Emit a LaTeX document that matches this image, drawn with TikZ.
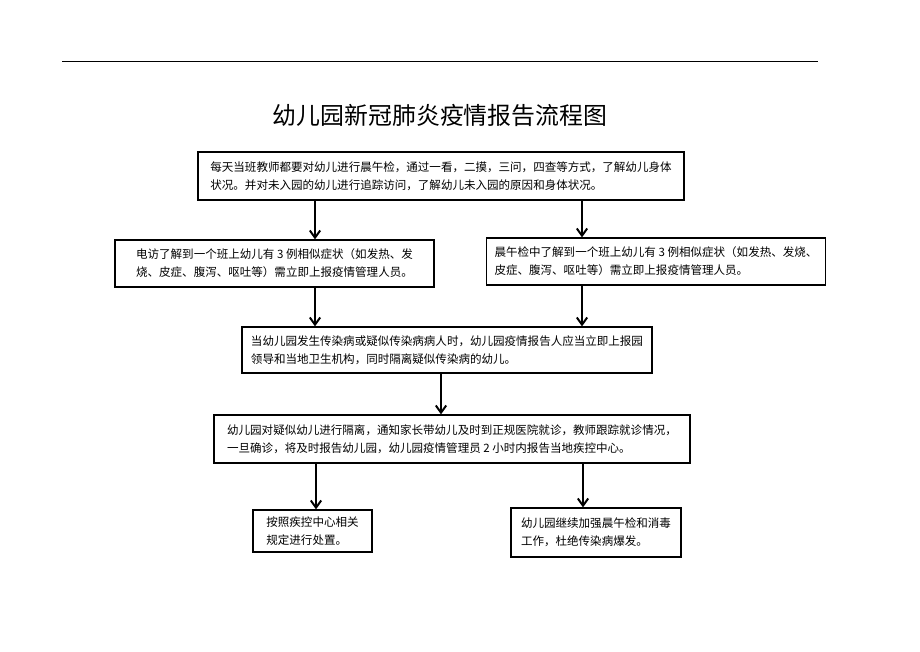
\documentclass[tikz,border=0pt]{standalone}
\usepackage{fontspec}
\newfontfamily\cjk{Noto Sans CJK SC}
\usepackage{tikz}
\usetikzlibrary{arrows.meta,positioning,calc}

\tikzset{
  procbox/.style={draw, line width=0.9pt, align=left, inner xsep=0.2cm,
    font=\cjk\fontsize{8.2}{12.8}\selectfont},
  flow/.style={-{Straight Barb[length=1.8mm,width=2.6mm]}, line width=1.4pt}
}

\begin{document}
\begin{tikzpicture}[x=0.025cm, y=-0.025cm]
\useasboundingbox (0,0) rectangle (920,651);
\draw[line width=0.6pt] (62,61) -- (818,61);

\node[font=\cjk\fontsize{17}{20}\selectfont] (title) at (440,115) {幼儿园新冠肺炎疫情报告流程图};

\node[procbox, minimum width=12.15cm, minimum height=1.2cm] (daily) at (441,176)
  {每天当班教师都要对幼儿进行晨午检，通过一看，二摸，三问，四查等方式，了解幼儿身体\\
   状况。并对未入园的幼儿进行追踪访问，了解幼儿未入园的原因和身体状况。};
\node[procbox, minimum width=7.975cm, minimum height=1.175cm] (phone) at (274.5,263.5)
  {电访了解到一个班上幼儿有 3 例相似症状（如发热、发\\
   烧、皮症、腹泻、呕吐等）需立即上报疫情管理人员。};
\node[procbox, minimum width=8.2cm, minimum height=1.175cm] (check) at (656,261.5)
  {晨午检中了解到一个班上幼儿有 3 例相似症状（如发热、发烧、\\
   皮症、腹泻、呕吐等）需立即上报疫情管理人员。};
\node[procbox, minimum width=10.25cm, minimum height=1.15cm] (report) at (447,350)
  {当幼儿园发生传染病或疑似传染病病人时，幼儿园疫情报告人应当立即上报园\\
   领导和当地卫生机构，同时隔离疑似传染病的幼儿。};
\node[procbox, minimum width=11.9cm, minimum height=1.2cm] (isolate) at (452,439)
  {幼儿园对疑似幼儿进行隔离，通知家长带幼儿及时到正规医院就诊，教师跟踪就诊情况，\\
   一旦确诊，将及时报告幼儿园，幼儿园疫情管理员 2 小时内报告当地疾控中心。};
\node[procbox, minimum width=2.975cm, minimum height=1.05cm] (cdc) at (312.5,531)
  {按照疾控中心相关\\规定进行处置。};
\node[procbox, minimum width=4.25cm, minimum height=1.225cm] (keep) at (596,532.5)
  {幼儿园继续加强晨午检和消毒\\工作，杜绝传染病爆发。};

\draw[flow] (daily.south -| 315,0) -- (phone.north -| 315,0);
\draw[flow] (daily.south -| 582,0) -- (check.north -| 582,0);
\draw[flow] (phone.south -| 315,0) -- (report.north -| 315,0);
\draw[flow] (check.south -| 582,0) -- (report.north -| 582,0);
\draw[flow] (report.south -| 441,0) -- (isolate.north -| 441,0);
\draw[flow] (isolate.south -| 316,0) -- (cdc.north -| 316,0);
\draw[flow] (isolate.south -| 583,0) -- (keep.north -| 583,0);

\end{tikzpicture}
\end{document}
